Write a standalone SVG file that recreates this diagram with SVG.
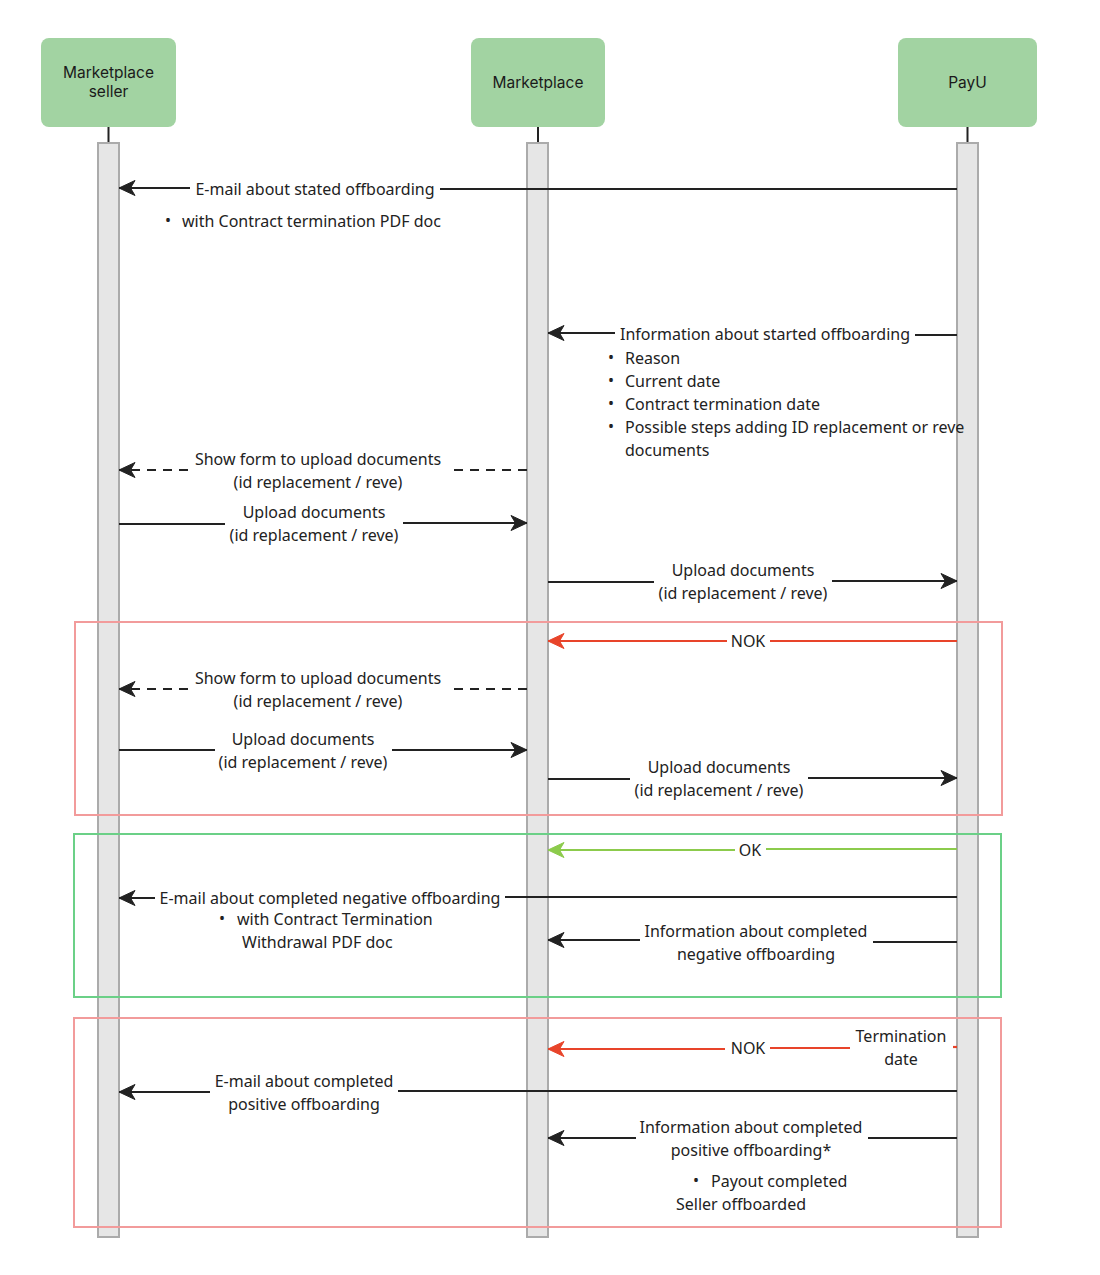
<svg xmlns="http://www.w3.org/2000/svg" width="1100" height="1275" viewBox="0 0 1100 1275">
<style>
.hdr{fill:#a2d3a2}
.ht{font-family:Inter,"Liberation Sans",sans-serif;font-size:15.5px;fill:#1a1a1a;text-anchor:middle}
.t{font-family:"Noto Sans","Open Sans",sans-serif;font-size:16px;fill:#222}
.c{text-anchor:middle}
.bar{fill:#e6e6e6;stroke:#ababab;stroke-width:2}
.stub{stroke:#222;stroke-width:2}
.ln{stroke:#222;stroke-width:2.2;fill:none}
.dash{stroke-dasharray:9 7}
.red{stroke:#e8442a;stroke-width:2.2;fill:none}
.grn{stroke:#8ccb4c;stroke-width:2.2;fill:none}
.boxr{fill:none;stroke:#f29b9b;stroke-width:2}
.boxg{fill:none;stroke:#6bd087;stroke-width:2}
</style>
<defs>
<marker id="ab" markerUnits="userSpaceOnUse" markerWidth="18" markerHeight="18" refX="17" refY="9" orient="auto">
<path d="M1,1.5 L17,9 L1,16.5 L5.5,9 Z" fill="#222" stroke="#222" stroke-width="1" stroke-linejoin="round"/>
</marker>
<marker id="ar" markerUnits="userSpaceOnUse" markerWidth="18" markerHeight="18" refX="17" refY="9" orient="auto">
<path d="M1,1.5 L17,9 L1,16.5 L5.5,9 Z" fill="#e8442a" stroke="#e8442a" stroke-width="1" stroke-linejoin="round"/>
</marker>
<marker id="ag" markerUnits="userSpaceOnUse" markerWidth="18" markerHeight="18" refX="17" refY="9" orient="auto">
<path d="M1,1.5 L17,9 L1,16.5 L5.5,9 Z" fill="#8ccb4c" stroke="#8ccb4c" stroke-width="1" stroke-linejoin="round"/>
</marker>
</defs>
<rect width="1100" height="1275" fill="#fff"/>

<g id="seller">
<rect class="hdr" x="41" y="38" width="135" height="89" rx="8"/>
<text class="ht" x="108.5" y="78">Marketplace</text>
<text class="ht" x="108.5" y="97">seller</text>
<line class="stub" x1="108.5" y1="127" x2="108.5" y2="143"/>
<rect class="bar" x="98" y="143" width="21" height="1094"/>
</g>
<g id="marketplace">
<rect class="hdr" x="471" y="38" width="134" height="89" rx="8"/>
<text class="ht" x="538" y="88">Marketplace</text>
<line class="stub" x1="538" y1="127" x2="538" y2="143"/>
<rect class="bar" x="527" y="143" width="21" height="1094"/>
</g>
<g id="payu">
<rect class="hdr" x="898" y="38" width="139" height="89" rx="8"/>
<text class="ht" x="967.5" y="88">PayU</text>
<line class="stub" x1="967.5" y1="127" x2="967.5" y2="143"/>
<rect class="bar" x="957" y="143" width="21" height="1094"/>
</g>

<g id="frames">
<rect class="boxr" x="75" y="622" width="927" height="193"/>
<rect class="boxg" x="74" y="834" width="927" height="163"/>
<rect class="boxr" x="74" y="1018" width="927" height="209"/>
</g>

<g id="connectors">
<line class="ln" x1="957" y1="189" x2="440" y2="189"/>
<line class="ln" x1="190" y1="188" x2="119" y2="188" marker-end="url(#ab)"/>
<line class="ln" x1="957" y1="335" x2="915" y2="335"/>
<line class="ln" x1="615" y1="333" x2="548" y2="333" marker-end="url(#ab)"/>
<line class="ln dash" x1="527" y1="470" x2="448" y2="470"/>
<line class="ln dash" x1="188" y1="470" x2="119" y2="470" marker-end="url(#ab)"/>
<line class="ln" x1="119" y1="524" x2="225" y2="524"/>
<line class="ln" x1="403" y1="523" x2="527" y2="523" marker-end="url(#ab)"/>
<line class="ln" x1="548" y1="582" x2="654" y2="582"/>
<line class="ln" x1="832" y1="581" x2="957" y2="581" marker-end="url(#ab)"/>
<line class="red" x1="957" y1="641" x2="770" y2="641"/>
<line class="red" x1="727" y1="641" x2="548" y2="641" marker-end="url(#ar)"/>
<line class="ln dash" x1="527" y1="689" x2="448" y2="689"/>
<line class="ln dash" x1="188" y1="689" x2="119" y2="689" marker-end="url(#ab)"/>
<line class="ln" x1="119" y1="750" x2="215" y2="750"/>
<line class="ln" x1="392" y1="750" x2="527" y2="750" marker-end="url(#ab)"/>
<line class="ln" x1="548" y1="779" x2="630" y2="779"/>
<line class="ln" x1="808" y1="778" x2="957" y2="778" marker-end="url(#ab)"/>
<line class="grn" x1="957" y1="849" x2="766" y2="849"/>
<line class="grn" x1="735" y1="850" x2="548" y2="850" marker-end="url(#ag)"/>
<line class="ln" x1="957" y1="897" x2="505" y2="897"/>
<line class="ln" x1="155" y1="898" x2="119" y2="898" marker-end="url(#ab)"/>
<line class="ln" x1="957" y1="942" x2="873" y2="942"/>
<line class="ln" x1="640" y1="940" x2="548" y2="940" marker-end="url(#ab)"/>
<line class="red" x1="957" y1="1047" x2="953" y2="1047"/>
<line class="red" x1="850" y1="1048" x2="770" y2="1048"/>
<line class="red" x1="725" y1="1049" x2="548" y2="1049" marker-end="url(#ar)"/>
<line class="ln" x1="957" y1="1091" x2="398" y2="1091"/>
<line class="ln" x1="210" y1="1092" x2="119" y2="1092" marker-end="url(#ab)"/>
<line class="ln" x1="957" y1="1138" x2="868" y2="1138"/>
<line class="ln" x1="636" y1="1138" x2="548" y2="1138" marker-end="url(#ab)"/>
</g>

<g id="labels">
<text class="t c" x="315" y="195">E-mail about stated offboarding</text>
<text class="t" x="165" y="226">•</text>
<text class="t" x="182" y="227">with Contract termination PDF doc</text>

<text class="t c" x="765" y="340">Information about started offboarding</text>
<text class="t" x="608" y="363">•</text>
<text class="t" x="625" y="364">Reason</text>
<text class="t" x="608" y="386">•</text>
<text class="t" x="625" y="387">Current date</text>
<text class="t" x="608" y="409">•</text>
<text class="t" x="625" y="410">Contract termination date</text>
<text class="t" x="608" y="432">•</text>
<text class="t" x="625" y="433">Possible steps adding ID replacement or reve</text>
<text class="t" x="625" y="456">documents</text>

<text class="t c" x="318" y="465">Show form to upload documents</text>
<text class="t c" x="318" y="488">(id replacement / reve)</text>
<text class="t c" x="314" y="518">Upload documents</text>
<text class="t c" x="314" y="541">(id replacement / reve)</text>
<text class="t c" x="743" y="576">Upload documents</text>
<text class="t c" x="743" y="599">(id replacement / reve)</text>

<text class="t c" x="748" y="647">NOK</text>
<text class="t c" x="318" y="684">Show form to upload documents</text>
<text class="t c" x="318" y="707">(id replacement / reve)</text>
<text class="t c" x="303" y="745">Upload documents</text>
<text class="t c" x="303" y="768">(id replacement / reve)</text>
<text class="t c" x="719" y="773">Upload documents</text>
<text class="t c" x="719" y="796">(id replacement / reve)</text>

<text class="t c" x="750" y="856">OK</text>
<text class="t c" x="330" y="904">E-mail about completed negative offboarding</text>
<text class="t" x="219" y="924">•</text>
<text class="t" x="237" y="925">with Contract Termination</text>
<text class="t" x="242" y="948">Withdrawal PDF doc</text>
<text class="t c" x="756" y="937">Information about completed</text>
<text class="t c" x="756" y="960">negative offboarding</text>

<text class="t c" x="748" y="1054">NOK</text>
<text class="t c" x="901" y="1042">Termination</text>
<text class="t c" x="901" y="1065">date</text>
<text class="t c" x="304" y="1087">E-mail about completed</text>
<text class="t c" x="304" y="1110">positive offboarding</text>
<text class="t c" x="751" y="1133">Information about completed</text>
<text class="t c" x="751" y="1156">positive offboarding*</text>
<text class="t" x="693" y="1186">•</text>
<text class="t" x="711" y="1187">Payout completed</text>
<text class="t" x="676" y="1210">Seller offboarded</text>
</g>
</svg>
